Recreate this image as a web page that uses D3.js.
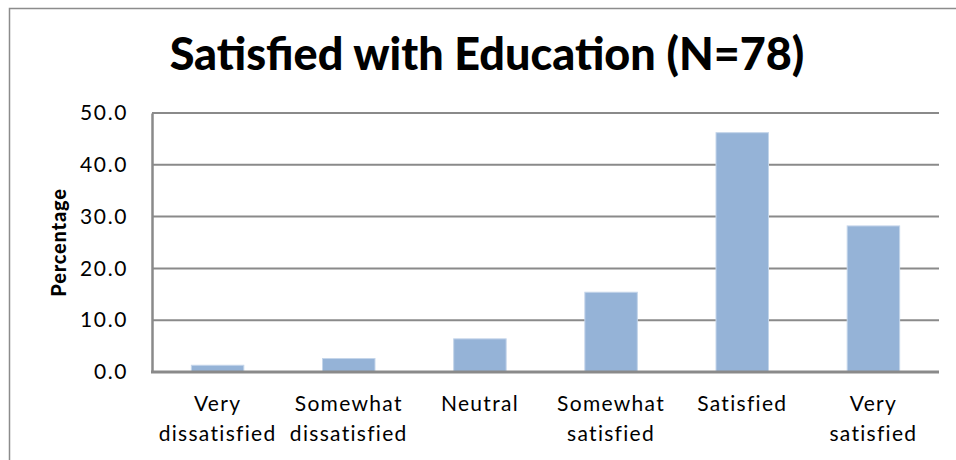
<!DOCTYPE html>
<html>
<head>
<meta charset="utf-8">
<script src="https://cdn.jsdelivr.net/npm/d3@7"></script>
<style>
  body { margin: 0; background: #fff; }
  svg { display: block; font-family: Lato, "Open Sans", sans-serif; }
</style>
</head>
<body>
<div id="chart"></div>
<script>
// data (counts out of N=78 as percentages)
const categories = [
    ["Very", "dissatisfied"],
    ["Somewhat", "dissatisfied"],
    ["Neutral"],
    ["Somewhat", "satisfied"],
    ["Satisfied"],
    ["Very", "satisfied"]
];
const percentages = [1.3, 2.6, 6.4, 15.4, 46.2, 28.2];
const yTicks = [0, 10, 20, 30, 40, 50];

const width = 956;
const height = 460;
const margin = { top: 113, right: 17, bottom: 88, left: 152 };

const svg = d3.select("#chart")
    .append("svg")
    .attr("width", width)
    .attr("height", height);

// chart frame
svg.append("rect")
    .attr("x", 9.5)
    .attr("y", 8.5)
    .attr("width", width + 20)
    .attr("height", height + 20)
    .attr("fill", "#fff")
    .attr("stroke", "#8c8c8c")
    .attr("stroke-width", 1.5);

const x = d3.scaleBand()
    .domain(d3.range(categories.length))
    .range([margin.left, width - margin.right])
    .paddingInner(0.6)
    .paddingOuter(0.3);

const y = d3.scaleLinear()
    .domain([0, 50])
    .range([height - margin.bottom, margin.top]);

// gridlines
svg.append("g")
    .selectAll("line")
    .data(yTicks.filter(d => d > 0))
    .enter().append("line")
    .attr("x1", margin.left)
    .attr("x2", width - margin.right)
    .attr("y1", d => y(d))
    .attr("y2", d => y(d))
    .attr("stroke", "#8a8a8a")
    .attr("stroke-width", 2);

// bars
svg.append("g")
    .selectAll("rect")
    .data(percentages)
    .enter().append("rect")
    .attr("x", (d, i) => x(i))
    .attr("y", d => y(d))
    .attr("width", x.bandwidth())
    .attr("height", d => y(0) - y(d))
    .attr("fill", "#95b3d7")
    .attr("stroke", "#c4d5ea")
    .attr("stroke-width", 1);

// y axis
const yAxis = svg.append("g")
    .attr("transform", `translate(${margin.left},0)`)
    .call(d3.axisLeft(y).tickValues(yTicks).tickFormat(d3.format(".1f")).tickSize(0).tickPadding(24));
yAxis.select(".domain").attr("stroke", "#8a8a8a").attr("stroke-width", 2.5);
yAxis.selectAll("text")
    .attr("font-size", 21)
    .attr("letter-spacing", 1.6)
    .attr("font-family", "Lato, sans-serif")
    .attr("fill", "#000");

// x axis line
svg.append("line")
    .attr("x1", margin.left - 1)
    .attr("x2", width - margin.right)
    .attr("y1", y(0))
    .attr("y2", y(0))
    .attr("stroke", "#8a8a8a")
    .attr("stroke-width", 3);

// category labels
const catLabels = svg.append("g")
    .selectAll("text")
    .data(categories)
    .enter().append("text")
    .attr("x", (d, i) => x(i) + x.bandwidth() / 2)
    .attr("y", 411)
    .attr("text-anchor", "middle")
    .attr("font-size", 21)
    .attr("letter-spacing", 1.3)
    .attr("fill", "#000");

catLabels.selectAll("tspan")
    .data(d => d)
    .enter().append("tspan")
    .attr("x", function() { return d3.select(this.parentNode).attr("x"); })
    .attr("dy", (d, i) => i === 0 ? 0 : 30)
    .text(d => d);

// y axis title
svg.append("text")
    .attr("transform", `translate(66,${(y(0) + y(50)) / 2}) rotate(-90)`)
    .attr("text-anchor", "middle")
    .attr("font-size", 20)
    .attr("font-weight", 900)
    .attr("letter-spacing", 0.8)
    .attr("fill", "#000")
    .text("Percentage");

// chart title, sized to the reference width
const title = svg.append("text")
    .attr("x", 487)
    .attr("y", 70)
    .attr("text-anchor", "middle")
    .attr("font-size", 38)
    .attr("font-weight", 900)
    .attr("fill", "#000")
    .text("Satisfied with Education (N=78)");
const tw = title.node().getComputedTextLength();
title.attr("font-size", 38 * 635 / tw);
</script>
</body>
</html>
